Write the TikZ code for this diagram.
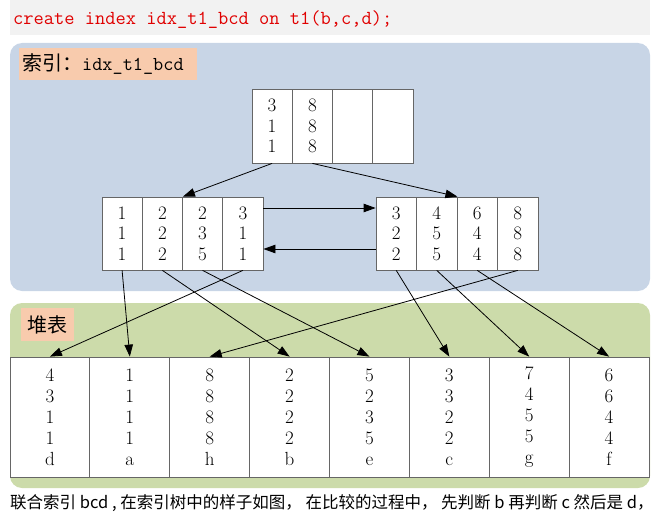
\documentclass[tikz,border=0pt]{standalone}
\usepackage{fontspec}
\newfontfamily\cjk{Noto Sans CJK SC}
\usetikzlibrary{arrows.meta}
\definecolor{bandgray}{HTML}{F2F2F2}
\definecolor{panelblue}{HTML}{C8D5E6}
\definecolor{panelgreen}{HTML}{CCDBAA}
\definecolor{labelorange}{HTML}{F8CBAD}
\definecolor{titlered}{HTML}{E00000}
\definecolor{cellline}{HTML}{666666}
\begin{document}
\begin{tikzpicture}[x=1pt,y=-1pt,
  cell/.style={draw=cellline, line width=0.8pt, fill=white, inner sep=0pt, align=center,
    font=\fontsize{19}{20.6}\selectfont},
  treecell/.style={cell, minimum width=40.25pt, minimum height=74pt},
  rcell/.style={cell, minimum width=40.5pt, minimum height=73pt},
  heapcell/.style={cell, minimum width=79.875pt, minimum height=120pt,
    font=\fontsize{19}{21}\selectfont},
  arr/.style={-{Triangle[length=12pt,width=8.5pt]}, line width=0.8pt, black},
  tag/.style={fill=labelorange, inner sep=0pt}
]
\useasboundingbox (0,0) rectangle (661,519);
% backgrounds
\fill[bandgray] (10,0) rectangle (650,35);
\fill[panelblue, rounded corners=12pt] (10,43) rectangle (650,291);
\fill[panelgreen, rounded corners=12pt] (10,303) rectangle (650,488);

% title
\node[anchor=base west, inner sep=0pt, text=titlered,
  font=\ttfamily\fontsize{19.9}{20}\selectfont] (title) at (13,25)
  {create index idx\_t1\_bcd on t1(b,c,d);};

% labels
\node[tag, anchor=west, minimum height=32pt, text width=172pt, inner xsep=3pt, align=left]
  (idxtag) at (19,64)
  {{\cjk\fontsize{20}{20}\selectfont 索引：}{\ttfamily\fontsize{19.7}{20}\selectfont idx\_t1\_bcd}};
\node[tag, minimum width=53pt, minimum height=33pt, font=\cjk\fontsize{20}{20}\selectfont]
  (heaptag) at (47.5,324.5) {堆表};

% root
\node[treecell] (r1) at (272.1,126) {3\\1\\1};
\node[treecell] (r2) at (312.4,126) {8\\8\\8};
\node[treecell] (r3) at (352.6,126) {};
\node[treecell] (r4) at (392.9,126) {};

% left leaf
\node[treecell, minimum height=73pt] (l1) at (122.1,233.5) {1\\1\\1};
\node[treecell, minimum height=73pt] (l2) at (162.4,233.5) {2\\2\\2};
\node[treecell, minimum height=73pt] (l3) at (202.6,233.5) {2\\3\\5};
\node[treecell, minimum height=73pt] (l4) at (242.9,233.5) {3\\1\\1};

% right leaf
\node[rcell] (m1) at (396.25,233.5) {3\\2\\2};
\node[rcell] (m2) at (436.75,233.5) {4\\5\\5};
\node[rcell] (m3) at (477.25,233.5) {6\\4\\4};
\node[rcell] (m4) at (517.75,233.5) {8\\8\\8};

% heap table
\node[heapcell] (h1) at (49.94,417) {4\\3\\1\\1\\d};
\node[heapcell] (h2) at (129.8,417) {1\\1\\1\\1\\a};
\node[heapcell] (h3) at (209.7,417) {8\\8\\8\\8\\h};
\node[heapcell] (h4) at (289.6,417) {2\\2\\2\\2\\b};
\node[heapcell] (h5) at (369.4,417) {5\\2\\3\\5\\e};
\node[heapcell] (h6) at (449.3,417) {3\\3\\2\\2\\c};
\node[heapcell] (h7) at (529.2,417) {7\\4\\5\\5\\g};
\node[heapcell] (h8) at (609.1,417) {6\\6\\4\\4\\f};

% tree arrows
\draw[arr] (r1.south) -- (l2.north east);
\draw[arr] (r2.south) -- (m2.north east);
\draw[arr] ([yshift=25.5pt]l4.east) -- ([yshift=25.5pt]m1.west);
\draw[arr] ([yshift=-15.5pt]m1.west) -- ([yshift=-15.5pt]l4.east);

% leaf to heap
\draw[arr] (l1.south) -- (h2.north);
\draw[arr] (l2.south) -- (h4.north);
\draw[arr] (l3.south) -- (h5.north);
\draw[arr] (l4.south) -- (h1.north);
\draw[arr] (m1.south) -- (h6.north);
\draw[arr] (m2.south) -- (h7.north);
\draw[arr] (m3.south) -- (h8.north);
\draw[arr] (m4.south) -- (h3.north);

% caption
\node[anchor=base west, inner sep=0pt, font=\cjk\fontsize{16.5}{18}\selectfont] (caption) at (10,508)
  {联合索引 bcd , 在索引树中的样子如图， 在比较的过程中， 先判断 b 再判断 c 然后是 d，};
\end{tikzpicture}
\end{document}
